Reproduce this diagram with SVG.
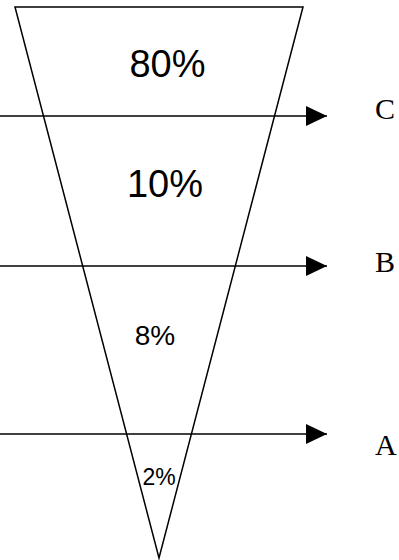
<svg xmlns="http://www.w3.org/2000/svg" width="399" height="560" viewBox="0 0 399 560">
<style>
.ln{stroke:#000;stroke-width:1.5;fill:none}
.pct{font-family:"Liberation Sans",Arial,sans-serif;fill:#000;text-anchor:middle}
.lbl{font-family:"Liberation Serif","Times New Roman",serif;fill:#000;font-size:30px}
</style>
<defs>
<marker id="ah" viewBox="0 0 21 20" refX="21" refY="10" markerWidth="21" markerHeight="20" markerUnits="userSpaceOnUse" orient="auto">
<path d="M0,0 L21,10 L0,20 Z" fill="#000"/>
</marker>
</defs>
<rect width="399" height="560" fill="#fff"/>
<g id="funnel">
<path class="ln" d="M15,7 L303,7 L159,558 Z" stroke-linejoin="miter"/>
<text class="pct" x="167.5" y="77" font-size="38">80%</text>
<text class="pct" x="165" y="197" font-size="38">10%</text>
<text class="pct" x="155" y="345" font-size="28">8%</text>
<text class="pct" x="159" y="485" font-size="23">2%</text>
</g>
<g id="connectors">
<line class="ln" x1="0" y1="116" x2="327" y2="116" marker-end="url(#ah)"/>
<line class="ln" x1="0" y1="266" x2="327" y2="266" marker-end="url(#ah)"/>
<line class="ln" x1="0" y1="434" x2="327" y2="434" marker-end="url(#ah)"/>
</g>
<g id="labelC"><text class="lbl" x="375" y="119">C</text></g>
<g id="labelB"><text class="lbl" x="375" y="272">B</text></g>
<g id="labelA"><text class="lbl" x="375" y="455">A</text></g>
</svg>
